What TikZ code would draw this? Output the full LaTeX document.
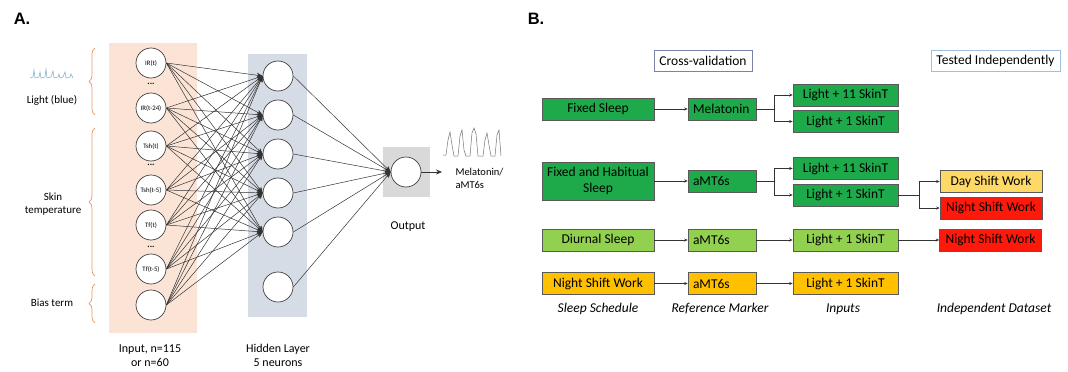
\documentclass[tikz,border=0pt]{standalone}
\usepackage{fontspec}
\setmainfont{Carlito}
\setsansfont{Liberation Sans}
\usetikzlibrary{arrows.meta,decorations.pathreplacing}

\definecolor{peach}{RGB}{251,228,214}
\definecolor{hiddenbg}{RGB}{214,220,229}
\definecolor{outbg}{RGB}{217,217,217}
\definecolor{braceorange}{RGB}{232,150,100}
\definecolor{lightblue}{RGB}{120,175,205}
\definecolor{dkgreen}{RGB}{30,170,75}
\definecolor{ltgreen}{RGB}{146,208,80}
\definecolor{amber}{RGB}{255,192,0}
\definecolor{paleyellow}{RGB}{255,217,102}
\definecolor{brightred}{RGB}{255,25,10}
\definecolor{cvborder}{RGB}{120,130,170}
\definecolor{tiborder}{RGB}{160,190,222}

\begin{document}
\begin{tikzpicture}[x=1pt,y=-1pt,
        neuron/.style={circle, draw=black!75, fill=white, line width=0.7pt, minimum size=30pt, inner sep=0pt, font={\fontsize{6.8}{7}\selectfont}},
        link/.style={black!80, line width=0.5pt, -{Stealth[length=6pt,width=5pt]}},
        flowbox/.style={draw=black!65, line width=0.6pt, minimum height=22pt, inner sep=0pt, font={\fontsize{13.5}{15}\selectfont}},
        markerbox/.style={flowbox, inner xsep=5pt, text width=58pt, align=left},
        flow/.style={black!80, line width=0.6pt, -{Stealth[length=3.5pt,width=3pt]}},
        bracket/.style={draw=braceorange, line width=0.7pt, decorate, decoration={brace, amplitude=6pt}},
        caption/.style={font={\fontsize{12}{14}\selectfont}, align=center},
        sidelabel/.style={font={\fontsize{11}{13.5}\selectfont}, align=center},
        heading/.style={font={\fontsize{13.5}{15}\selectfont\itshape}}]
        \useasboundingbox (0,0) rectangle (1068,372);

        % panel A backgrounds
        \fill[peach] (109,43) rectangle (197,333);
        \fill[hiddenbg] (248,54) rectangle (307,317);
        \fill[outbg] (383,147) rectangle (430,197);

        \node[font={\fontsize{16.5}{18}\selectfont\sffamily\bfseries}] (labA) at (22,19) {A.};
        \node[font={\fontsize{16.5}{18}\selectfont\sffamily\bfseries}] (labB) at (536,19) {B.};

        % input layer
        \node[neuron] (in1) at (151,63) {IR(t)};
        \node[neuron] (in2) at (151,108) {IR(t-24)};
        \node[neuron] (in3) at (151,146) {Tsh(t)};
        \node[neuron] (in4) at (151,190) {Tsh(t-5)};
        \node[neuron] (in5) at (151,225) {Tf(t)};
        \node[neuron] (in6) at (151,269) {Tf(t-5)};
        \node[neuron] (in7) at (151,305) {};
        \node[font={\fontsize{9}{9}\selectfont\bfseries}] (dots1) at (151,84) {...};
        \node[font={\fontsize{9}{9}\selectfont\bfseries}] (dots2) at (151,165) {...};
        \node[font={\fontsize{9}{9}\selectfont\bfseries}] (dots3) at (151,247) {...};

        % hidden layer and output
        \foreach \i/\y in {1/76, 2/115, 3/154, 4/193, 5/232, 6/287}
            \node[neuron] (hid\i) at (278,\y) {};
        \node[neuron] (out) at (406,172) {};

        \foreach \i in {1,...,7}
            \foreach \j in {1,...,5}
                \draw[link] (in\i.east) -- (hid\j.west);
        \foreach \j in {1,...,6}
            \draw[link] (hid\j.east) -- (out.west);

        \coordinate (melout) at (442,172);
        \draw[black!80, line width=0.6pt, -{Stealth[length=6pt,width=5pt]}] (out.east) -- (melout);

        % signals
        \draw[lightblue, line width=0.5pt] (30,78) -- (33,77) -- (34,70) -- (35,78) -- (39,77) -- (40,72) -- (41,78) -- (45,77) -- (46,69) -- (47,78) -- (51,77) -- (53,71) -- (54,78) -- (58,77) -- (59,74) -- (60,78) -- (63,77) -- (65,72) -- (66,78) -- (70,77) -- (71,74) -- (73,78);
        \draw[black!55, line width=0.5pt] (443,155) -- (446,155) -- (448,140) -- (450,132) -- (452,145) -- (454,156) -- (458,156) -- (460,136) -- (462,130) -- (464,150) -- (466,156) -- (470,156) -- (472,133) -- (474,128) -- (476,134) -- (478,156) -- (483,156) -- (485,140) -- (487,133) -- (489,145) -- (491,156) -- (495,156) -- (497,135) -- (499,130) -- (501,156);

        % braces and side labels
        \draw[bracket] (95,115) -- (95,48);
        \draw[bracket] (95,276) -- (95,128);
        \draw[bracket] (95,323) -- (95,284);
        \node[sidelabel] (lightlab) at (52,100) {Light (blue)};
        \node[sidelabel] (skinlab) at (53,204) {Skin\\temperature};
        \node[sidelabel] (biaslab) at (52,303) {Bias term};

        \node[caption] (inlab) at (150,356) {Input, n=115\\or n=60};
        \node[caption] (hidlab) at (278,355) {Hidden Layer\\5 neurons};
        \node[caption] (outlab) at (408,227) {Output};
        \node[sidelabel, anchor=west, align=left, font={\fontsize{10.5}{13}\selectfont}] (mellab) at (452,178) {Melatonin/\\aMT6s};

        % panel B
        \node[flowbox, draw=cvborder, fill=white, minimum width=98pt, minimum height=21pt] (cv) at (703,60.5) {Cross-validation};
        \node[flowbox, draw=tiborder, fill=white, minimum width=129pt, minimum height=21pt] (ti) at (995.5,60.5) {Tested Independently};

        \node[flowbox, fill=dkgreen, minimum width=112pt] (fixed) at (598,109) {Fixed Sleep};
        \node[markerbox, fill=dkgreen] (mel) at (722,109) {Melatonin};
        \node[flowbox, fill=dkgreen, minimum width=105pt] (l11a) at (845.5,95) {Light + 11 SkinT};
        \node[flowbox, fill=dkgreen, minimum width=105pt] (l1a) at (845.5,121.5) {Light + 1 SkinT};

        \node[flowbox, fill=dkgreen, minimum width=112pt, minimum height=38pt, align=center, font={\fontsize{13.5}{16}\selectfont}] (habit) at (598,181) {Fixed and Habitual\\Sleep};
        \node[markerbox, fill=dkgreen] (amtA) at (722,181) {aMT6s};
        \node[flowbox, fill=dkgreen, minimum width=105pt] (l11b) at (845.5,168.5) {Light + 11 SkinT};
        \node[flowbox, fill=dkgreen, minimum width=105pt] (l1b) at (845.5,195) {Light + 1 SkinT};
        \node[flowbox, fill=paleyellow, minimum width=102pt] (day) at (991,181.5) {Day Shift Work};
        \node[flowbox, fill=brightred, minimum width=102pt] (nightA) at (991,208) {Night Shift Work};

        \node[flowbox, fill=ltgreen, minimum width=112pt] (diurnal) at (598,240) {Diurnal Sleep};
        \node[markerbox, fill=ltgreen] (amtB) at (722,240) {aMT6s};
        \node[flowbox, fill=ltgreen, minimum width=105pt] (l1c) at (845.5,240) {Light + 1 SkinT};
        \node[flowbox, fill=brightred, minimum width=102pt] (nightB) at (990.5,240) {Night Shift Work};

        \node[flowbox, fill=amber, minimum width=112pt] (shift) at (598,283.5) {Night Shift Work};
        \node[markerbox, fill=amber] (amtC) at (722,283.5) {aMT6s};
        \node[flowbox, fill=amber, minimum width=105pt] (l1d) at (845.5,283.5) {Light + 1 SkinT};

        \draw[flow] (fixed.east) -- (mel.west);
        \draw[flow] (mel.east) -- ++(18,0) |- (l11a.west);
        \draw[flow] (mel.east) -- ++(18,0) |- (l1a.west);
        \draw[flow] (habit.east) -- (amtA.west);
        \draw[flow] (amtA.east) -- ++(18,0) |- (l11b.west);
        \draw[flow] (amtA.east) -- ++(18,0) |- (l1b.west);
        \draw[flow] (l1b.east) -- ++(21,0) |- (day.west);
        \draw[flow] (l1b.east) -- ++(21,0) |- (nightA.west);
        \draw[flow] (diurnal.east) -- (amtB.west);
        \draw[flow] (amtB.east) -- (l1c.west);
        \draw[flow] (l1c.east) -- (nightB.west);
        \draw[flow] (shift.east) -- (amtC.west);
        \draw[flow] (amtC.east) -- (l1d.west);

        \node[heading] (colsleep) at (598,309) {Sleep Schedule};
        \node[heading] (colref) at (720,309) {Reference Marker};
        \node[heading] (colin) at (843,309) {Inputs};
        \node[heading] (colind) at (994,309) {Independent Dataset};
    \end{tikzpicture}
\end{document}
